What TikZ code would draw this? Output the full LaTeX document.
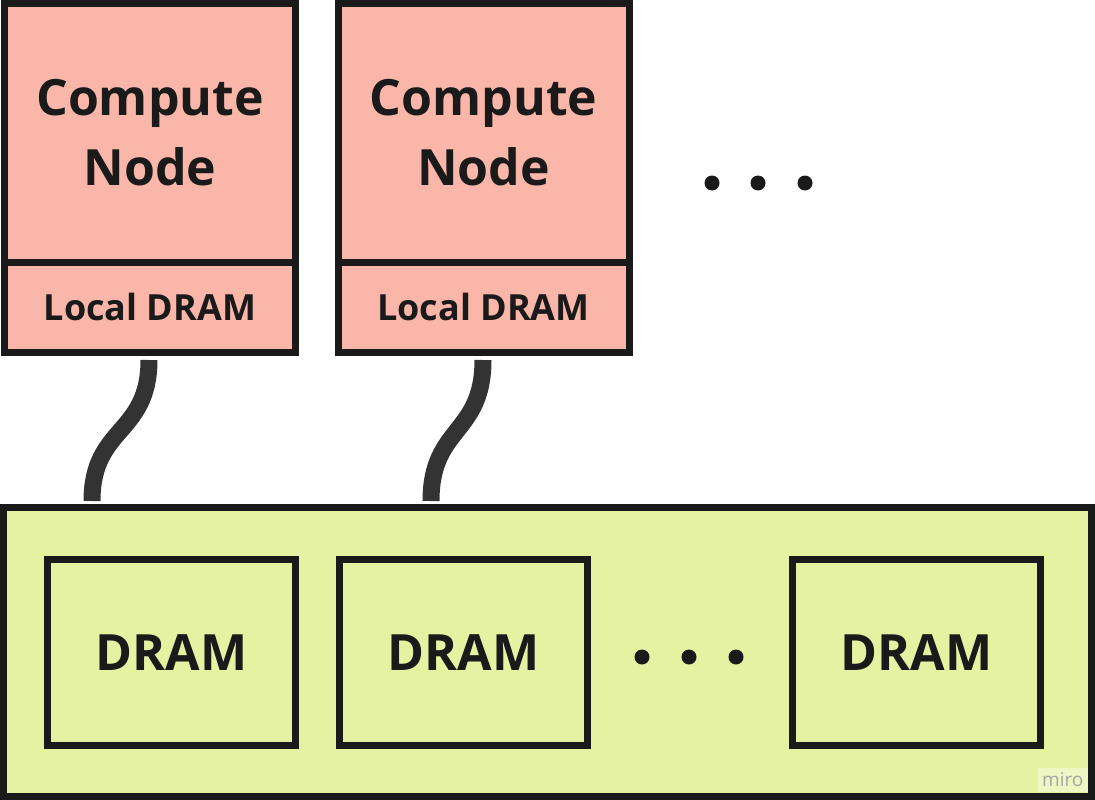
\documentclass[tikz,border=0pt]{standalone}
\usepackage{fontspec}
\setsansfont{Open Sans}
\usetikzlibrary{positioning, calc}

\definecolor{nodepink}{RGB}{249,182,169}
\definecolor{poolgreen}{RGB}{229,242,161}
\definecolor{edgeblack}{RGB}{26,26,26}
\definecolor{cablegray}{RGB}{51,51,51}

\begin{document}
\begin{tikzpicture}[
    x=1pt, y=1pt,
    font=\sffamily\bfseries,
    % styles
    box/.style={draw=edgeblack, line width=7pt, rectangle, inner sep=0pt, outer sep=0pt, align=center, text=edgeblack},
    compute/.style={box, fill=nodepink, minimum width=291pt, minimum height=258.5pt, font=\sffamily\bfseries\fontsize{50}{70}\selectfont},
    localmem/.style={box, fill=nodepink, minimum width=291pt, minimum height=90pt, font=\sffamily\bfseries\fontsize{36}{40}\selectfont},
    pool/.style={box, fill=poolgreen, minimum width=1088pt, minimum height=289pt},
    dram/.style={box, fill=poolgreen, minimum width=248pt, minimum height=186pt, font=\sffamily\bfseries\fontsize{50}{56}\selectfont},
    cable/.style={draw=cablegray, line width=17pt}
]
    \useasboundingbox (0,0) rectangle (1095,-800);

    % --- 1. Nodes ---

    % Compute nodes with their local memory
    \node[compute] (cn1) at (150,-132.75) {Compute\\Node};
    \node[localmem, below=0pt of cn1] (ld1) {Local DRAM};

    \node[compute, right=42.5pt of cn1] (cn2) {Compute\\Node};
    \node[localmem, below=0pt of cn2] (ld2) {Local DRAM};

    % Memory pool
    \node[pool] (pool) at (547.5,-652) {};
    \node[dram] (dram1) at (171.75,-652.5) {DRAM};
    \node[dram, right=44pt of dram1] (dram2) {DRAM};
    \node[dram] (dram3) at (916.75,-652.5) {DRAM};

    % Ellipses
    \foreach \x in {712,758,805} \fill[edgeblack] (\x,-183) circle (7.5);
    \foreach \x in {642,689,736} \fill[edgeblack] (\x,-657) circle (7.5);

    % --- 2. Cables ---
    \draw[cable] ($(ld1.south)+(-1,-8)$) .. controls +(0,-75) and +(0,75) .. ($(ld1.south |- pool.north)+(-58,6.5)$);
    \draw[cable] ($(ld2.south)+(-0.5,-8)$) .. controls +(0,-75) and +(0,75) .. ($(ld2.south |- pool.north)+(-52.5,6.5)$);

    % watermark
    \node[fill=white, fill opacity=0.35, text opacity=1, text=gray!70, font=\sffamily\fontsize{19}{19}\selectfont, minimum width=50pt, minimum height=24pt, inner sep=0pt, anchor=south east] (mark) at (1088,-792) {miro};

\end{tikzpicture}
\end{document}
